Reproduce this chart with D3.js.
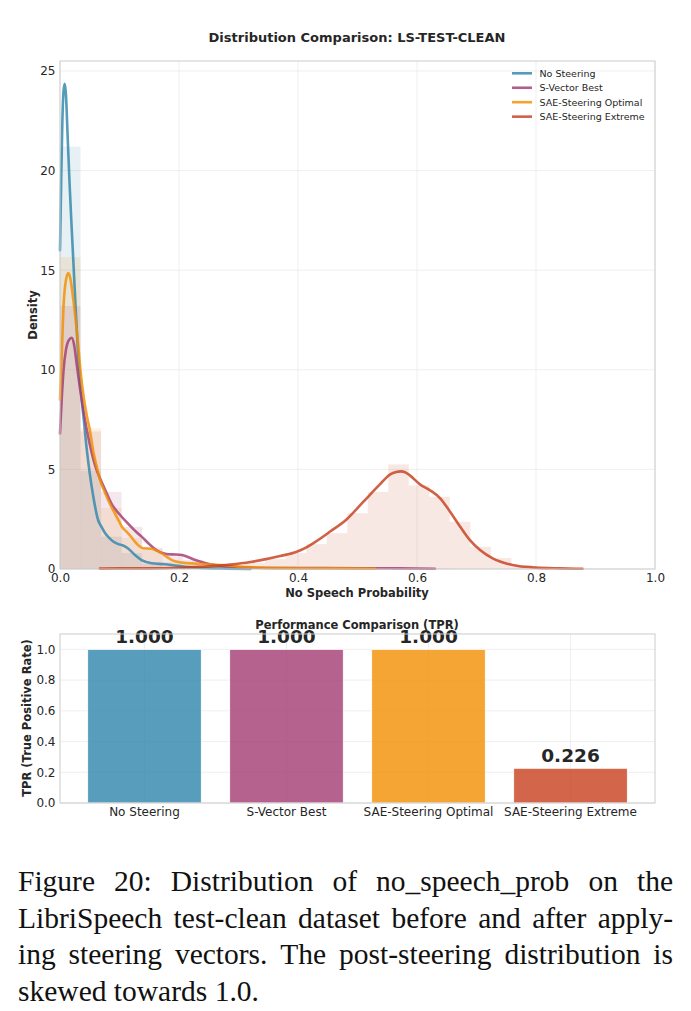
<!DOCTYPE html>
<html><head><meta charset="utf-8">
<script src="https://cdn.jsdelivr.net/npm/d3@7"></script>
<style>
html,body{margin:0;padding:0;background:#fff;}
svg{display:block;}
</style></head><body>
<svg id="chart" width="691" height="1011"></svg>
<script>
// ---------------- DATA ----------------
const seriesNames = ["No Steering", "S-Vector Best", "SAE-Steering Optimal", "SAE-Steering Extreme"];
const seriesColors = ["#2E86AB", "#A23B72", "#F18F01", "#C73E1D"];

const densityTitle = "Distribution Comparison: LS-TEST-CLEAN";
const densityXLabel = "No Speech Probability";
const densityYLabel = "Density";
const densityXTicks = [0, 0.2, 0.4, 0.6, 0.8, 1.0];
const densityYTicks = [0, 5, 10, 15, 20, 25];

// histogram: shared bins over [0,1], 29 bins; each series gives first bin index + heights
const histBins = 29;
const histNoSteeringStart = 0;
const histNoSteering = [21.2, 4.93, 1.62, 0.8, 0.25, 0.1, 0.05, 0.03, 0.02];
const histSVectorStart = 0;
const histSVector = [13.2, 6.9, 3.87, 2.12, 1.07, 0.75, 0.45, 0.25, 0.12, 0.07, 0.05, 0.05, 0.05, 0.05, 0.04, 0.04, 0.03, 0.03, 0.02];
const histSAEOptimalStart = 0;
const histSAEOptimal = [15.65, 7.06, 3.06, 1.56, 1.0, 0.35, 0.2, 0.15, 0.08, 0.05, 0.04, 0.03, 0.03, 0.03, 0.02, 0.02];
const histSAEExtremeStart = 2;
const histSAEExtreme = [0.02, 0.03, 0.03, 0.04, 0.07, 0.12, 0.2, 0.3, 0.5, 0.8, 1.25, 1.8, 2.8, 3.87, 5.25, 4.2, 3.63, 2.37, 1.12, 0.55, 0.2, 0.07, 0.03, 0.02];

// KDE curves: [x, density]
const kdeNoSteering = [[0,16],[0.002,19.5],[0.004,22.5],[0.006,24.0],[0.008,24.35],[0.010,23.8],[0.013,21.6],[0.016,19.4],[0.020,16.9],[0.025,13.9],[0.030,11.0],[0.035,9.0],[0.040,7.5],[0.045,6.0],[0.050,4.8],[0.056,3.63],[0.064,2.46],[0.070,2.1],[0.076,1.79],[0.083,1.55],[0.090,1.37],[0.098,1.25],[0.106,1.18],[0.115,1.02],[0.126,0.7],[0.137,0.45],[0.154,0.29],[0.176,0.24],[0.190,0.19],[0.210,0.11],[0.240,0.05],[0.280,0.02],[0.320,0.0]];
const kdeSVector = [[0,6.8],[0.003,8.6],[0.006,10.0],[0.010,11.0],[0.015,11.5],[0.0197,11.6],[0.024,11.2],[0.028,10.3],[0.033,9.2],[0.038,8.2],[0.045,7.0],[0.052,6.0],[0.060,5.1],[0.068,4.5],[0.077,3.9],[0.088,3.2],[0.100,2.75],[0.112,2.35],[0.125,1.95],[0.138,1.6],[0.150,1.25],[0.162,0.95],[0.172,0.8],[0.182,0.74],[0.195,0.73],[0.205,0.7],[0.215,0.6],[0.225,0.48],[0.238,0.35],[0.252,0.24],[0.268,0.17],[0.29,0.11],[0.32,0.07],[0.36,0.05],[0.42,0.05],[0.50,0.04],[0.57,0.03],[0.63,0.01]];
const kdeSAEOptimal = [[0,8.5],[0.003,10.8],[0.006,13.2],[0.010,14.5],[0.014,14.85],[0.018,14.5],[0.022,13.6],[0.026,12.6],[0.030,11.4],[0.035,9.8],[0.040,8.6],[0.045,7.7],[0.050,7.0],[0.056,5.9],[0.062,5.1],[0.067,4.5],[0.076,3.8],[0.085,3.2],[0.092,2.8],[0.100,2.35],[0.104,2.12],[0.112,1.87],[0.120,1.6],[0.126,1.37],[0.133,1.15],[0.140,1.04],[0.154,1.02],[0.163,0.92],[0.171,0.79],[0.180,0.6],[0.188,0.45],[0.205,0.32],[0.228,0.27],[0.272,0.2],[0.30,0.12],[0.34,0.07],[0.40,0.04],[0.46,0.03],[0.53,0.01]];
const kdeSAEExtreme = [[0.067,0.02],[0.10,0.03],[0.15,0.03],[0.20,0.06],[0.25,0.13],[0.286,0.22],[0.32,0.35],[0.342,0.47],[0.37,0.65],[0.398,0.87],[0.415,1.1],[0.426,1.3],[0.454,1.88],[0.482,2.5],[0.51,3.38],[0.538,4.26],[0.555,4.75],[0.565,4.87],[0.573,4.9],[0.58,4.86],[0.588,4.7],[0.605,4.25],[0.622,3.95],[0.639,3.55],[0.655,2.9],[0.672,2.15],[0.689,1.45],[0.706,0.95],[0.728,0.52],[0.75,0.28],[0.77,0.15],[0.80,0.07],[0.84,0.03],[0.878,0.01]];

const barTitle = "Performance Comparison (TPR)";
const barYLabel = "TPR (True Positive Rate)";
const barCategories = ["No Steering", "S-Vector Best", "SAE-Steering Optimal", "SAE-Steering Extreme"];
const tprValues = [1.000, 1.000, 1.000, 0.226];
const barYTicks = [0, 0.2, 0.4, 0.6, 0.8, 1.0];

const captionLines = [
  "Figure 20:  Distribution of no_speech_prob on the",
  "LibriSpeech test-clean dataset before and after apply-",
  "ing steering vectors.  The post-steering distribution is",
  "skewed towards 1.0."
];

// ---------------- DRAW ----------------
const svg = d3.select("#chart");
svg.append("rect").attr("width", 691).attr("height", 1011).attr("fill", "#fff");
const FONT = "DejaVu Sans, sans-serif";
const TXT = "#262626";
const GRID = "#ebebeb";
const EDGE = "#cccccc";

// ---- density panel ----
const dx = d3.scaleLinear().domain([0, 1]).range([60, 655]);
const dy = d3.scaleLinear().domain([0, 25.5]).range([569, 61]);
const dp = svg.append("g");

dp.append("g").selectAll("line").data(densityXTicks).join("line")
  .attr("x1", d => dx(d)).attr("x2", d => dx(d)).attr("y1", dy(25.5)).attr("y2", dy(0))
  .attr("stroke", GRID).attr("stroke-width", 0.8);
dp.append("g").selectAll("line").data(densityYTicks).join("line")
  .attr("y1", d => dy(d)).attr("y2", d => dy(d)).attr("x1", dx(0)).attr("x2", dx(1))
  .attr("stroke", GRID).attr("stroke-width", 0.8);

const histList = [
  [histNoSteeringStart, histNoSteering],
  [histSVectorStart, histSVector],
  [histSAEOptimalStart, histSAEOptimal],
  [histSAEExtremeStart, histSAEExtreme]
];
const kdeList = [kdeNoSteering, kdeSVector, kdeSAEOptimal, kdeSAEExtreme];
const line = d3.line().x(d => dx(d[0])).y(d => dy(d[1])).curve(d3.curveMonotoneX);

histList.forEach(([start, hs], si) => {
  dp.append("g").selectAll("rect").data(hs).join("rect")
    .attr("x", (h, i) => dx((start + i) / histBins))
    .attr("width", (h, i) => dx((start + i + 1) / histBins) - dx((start + i) / histBins))
    .attr("y", h => dy(h))
    .attr("height", h => dy(0) - dy(h))
    .attr("fill", seriesColors[si]).attr("fill-opacity", 0.12);
});
kdeList.forEach((k, si) => {
  dp.append("path").datum(k).attr("d", line)
    .attr("fill", "none").attr("stroke", seriesColors[si]).attr("stroke-opacity", 0.82)
    .attr("stroke-width", 2.6)
    .attr("stroke-linejoin", "round").attr("stroke-linecap", "round");
});

dp.append("rect").attr("x", dx(0)).attr("y", dy(25.5)).attr("width", dx(1) - dx(0)).attr("height", dy(0) - dy(25.5))
  .attr("fill", "none").attr("stroke", EDGE).attr("stroke-width", 1);

const axDX = dp.append("g").attr("transform", `translate(0,${dy(0)})`)
  .call(d3.axisBottom(dx).tickValues(densityXTicks).tickFormat(d3.format(".1f")).tickSize(0).tickPadding(4));
const axDY = dp.append("g").attr("transform", `translate(${dx(0)},0)`)
  .call(d3.axisLeft(dy).tickValues(densityYTicks).tickFormat(d3.format("d")).tickSize(0).tickPadding(4.5));
[axDX, axDY].forEach(a => {
  a.select(".domain").remove();
  a.selectAll("text").attr("font-family", FONT).attr("font-size", 12).attr("fill", TXT);
});

dp.append("text").attr("x", 357).attr("y", 41.5).attr("text-anchor", "middle")
  .attr("font-family", FONT).attr("font-weight", "bold").attr("font-size", 13).attr("fill", TXT).text(densityTitle);
dp.append("text").attr("x", 357).attr("y", 596.5).attr("text-anchor", "middle")
  .attr("font-family", FONT).attr("font-weight", "bold").attr("font-size", 11.5).attr("fill", TXT).text(densityXLabel);
dp.append("text").attr("transform", `translate(37,315) rotate(-90)`).attr("text-anchor", "middle")
  .attr("font-family", FONT).attr("font-weight", "bold").attr("font-size", 11.5).attr("fill", TXT).text(densityYLabel);

// legend
const lg = dp.append("g");
seriesNames.forEach((n, i) => {
  const yy = 73.3 + i * 14.45;
  lg.append("line").attr("x1", 512).attr("x2", 532).attr("y1", yy).attr("y2", yy)
    .attr("stroke", seriesColors[i]).attr("stroke-opacity", 0.82).attr("stroke-width", 2.6);
  lg.append("text").attr("x", 539.5).attr("y", yy).attr("dy", "0.35em")
    .attr("font-family", FONT).attr("font-size", 9.5).attr("fill", TXT).text(n);
});

// ---- bar panel ----
const bx = d3.scaleBand().domain(barCategories).range([60, 655]).paddingInner(0.2).paddingOuter(0.195);
const by = d3.scaleLinear().domain([0, 1.1]).range([803, 634]);
const bp = svg.append("g");

bp.append("g").selectAll("line").data(barCategories).join("line")
  .attr("x1", d => bx(d) + bx.bandwidth() / 2).attr("x2", d => bx(d) + bx.bandwidth() / 2)
  .attr("y1", by(1.1)).attr("y2", by(0)).attr("stroke", GRID).attr("stroke-width", 0.8);
bp.append("g").selectAll("line").data(barYTicks).join("line")
  .attr("y1", d => by(d)).attr("y2", d => by(d)).attr("x1", 60).attr("x2", 655)
  .attr("stroke", GRID).attr("stroke-width", 0.8);

bp.append("g").selectAll("rect").data(tprValues).join("rect")
  .attr("x", (v, i) => bx(barCategories[i]))
  .attr("width", bx.bandwidth())
  .attr("y", v => by(v))
  .attr("height", v => by(0) - by(v))
  .attr("fill", (v, i) => seriesColors[i]).attr("fill-opacity", 0.8)
  .attr("stroke", "#fff").attr("stroke-width", 0.8);

bp.append("g").selectAll("text").data(tprValues).join("text")
  .attr("x", (v, i) => bx(barCategories[i]) + bx.bandwidth() / 2)
  .attr("y", v => by(v) - 6)
  .attr("text-anchor", "middle")
  .attr("font-family", FONT).attr("font-weight", "bold").attr("font-size", 18.5).attr("fill", TXT)
  .text(v => d3.format(".3f")(v));

bp.append("rect").attr("x", 60).attr("y", by(1.1)).attr("width", 595).attr("height", by(0) - by(1.1))
  .attr("fill", "none").attr("stroke", EDGE).attr("stroke-width", 1);

const axBX = bp.append("g").attr("transform", `translate(0,${by(0)})`)
  .call(d3.axisBottom(bx).tickSize(0).tickPadding(4.5));
const axBY = bp.append("g").attr("transform", `translate(60,0)`)
  .call(d3.axisLeft(by).tickValues(barYTicks).tickFormat(d3.format(".1f")).tickSize(0).tickPadding(4.5));
[axBX, axBY].forEach(a => {
  a.select(".domain").remove();
  a.selectAll("text").attr("font-family", FONT).attr("font-size", 12).attr("fill", TXT);
});

bp.append("text").attr("x", 357).attr("y", 629).attr("text-anchor", "middle")
  .attr("font-family", FONT).attr("font-weight", "bold").attr("font-size", 11.5).attr("fill", TXT).text(barTitle);
bp.append("text").attr("transform", `translate(31,718) rotate(-90)`).attr("text-anchor", "middle")
  .attr("font-family", FONT).attr("font-weight", "bold").attr("font-size", 11.5).attr("fill", TXT).text(barYLabel);

// ---- caption (justified) ----
const cap = svg.append("g").attr("font-family", "Liberation Serif, Times New Roman, serif").attr("font-size", 29.5).attr("fill", "#111");
const capX0 = 18, capX1 = 673;
const capBaselines = [891, 927.5, 964, 1000.5];
captionLines.forEach((ln, li) => {
  const words = ln.split(/\s+/);
  const justify = li < captionLines.length - 1;
  const nodes = words.map(w => cap.append("text").attr("y", capBaselines[li]).text(w));
  const widths = nodes.map(n => n.node().getComputedTextLength());
  const total = d3.sum(widths);
  const gap = justify ? (capX1 - capX0 - total) / (words.length - 1) : 29.5 * 0.25;
  let x = capX0;
  nodes.forEach((n, i) => { n.attr("x", x); x += widths[i] + gap; });
});
</script>
</body></html>
